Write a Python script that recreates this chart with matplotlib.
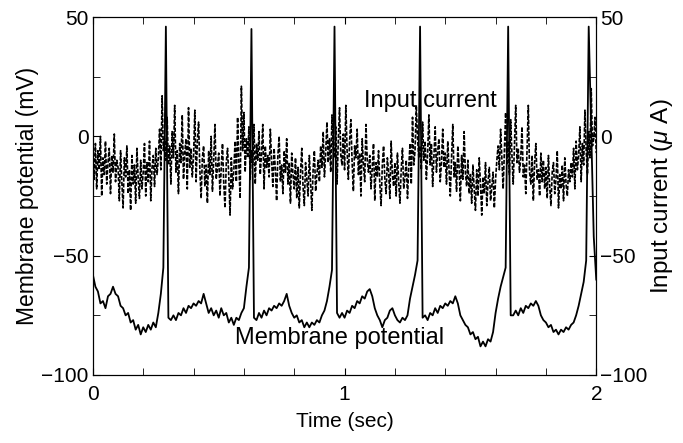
import numpy as np
import matplotlib
matplotlib.use("Agg")
import matplotlib.pyplot as plt
from matplotlib.ticker import MultipleLocator

plt.rcParams['font.family'] = ['Liberation Sans', 'DejaVu Sans']
plt.rcParams['mathtext.fontset'] = 'custom'
plt.rcParams['mathtext.it'] = 'Liberation Sans:italic'
plt.rcParams['mathtext.rm'] = 'Liberation Sans'

# membrane potential (mV), one value every 10 ms from 0 to 2 s
membrane = [
    -58, -63, -65, -70, -69, -72, -67, -66, -63, -66,
    -67, -71, -72, -75, -74, -78, -77, -81, -79, -83,
    -80, -82, -79, -81, -78, -80, -74, -66, -55, 46,
    -76, -77, -75, -77, -74, -75, -72, -74, -71, -72,
    -70, -71, -69, -70, -66, -70, -74, -72, -75, -73,
    -76, -72, -75, -74, -78, -76, -79, -76, -77, -74,
    -72, -63, -55, 45, -76, -77, -74, -76, -73, -75,
    -72, -73, -71, -72, -70, -71, -69, -66, -71, -74,
    -76, -75, -78, -77, -80, -78, -80, -78, -79, -77,
    -78, -75, -73, -69, -63, -56, 46, -74, -76, -74,
    -76, -73, -74, -71, -72, -69, -70, -67, -68, -65,
    -64, -67, -72, -75, -77, -80, -77, -76, -73, -72,
    -75, -77, -78, -76, -77, -75, -68, -63, -58, -52,
    46, -76, -75, -77, -74, -75, -72, -74, -71, -72,
    -70, -71, -69, -70, -67, -70, -75, -77, -79, -80,
    -83, -82, -85, -84, -88, -86, -88, -85, -86, -82,
    -74, -68, -63, -59, -55, 46, -75, -75, -73, -75,
    -72, -74, -71, -72, -70, -71, -69, -71, -75, -77,
    -78, -80, -79, -82, -81, -83, -81, -82, -80, -81,
    -79, -78, -75, -71, -66, -61, -52, 46, 2, -42,
    -60,
]

# input current (uA), one value every 5 ms from 0 to 2 s
current = [
    -8, -18, -3, -22, -6, -14, 0, -25, -9, -16, -2, -20, -11, -5, -24, -8, -15, 1, -19, -10,
    -13, -27, -6, -19, -30, -9, -17, -4, -24, -14, -31, -8, -20, -12, -28, -5, -18, -26, -10, -22,
    -15, -3, -25, -11, -19, -2, -27, -13, -8, -21, -5, -16, -9, 3, -14, 17, -6, -1, -10, 8,
    -12, -4, -20, 2, -9, 13, -15, -6, -24, -3, -11, 9, -18, -7, -1, -22, 12, -13, -5, -17,
    -8, 11, -19, -2, 6, -14, -26, -9, -4, -21, -12, -28, -6, -16, 0, -23, -10, 5, -18, -13,
    -7, -25, -13, -3, -20, -30, -11, -5, -17, -33, -9, -22, -14, -2, -19, 8, -12, -26, 21, -6,
    10, -15, -1, -9, 4, -18, -6, -12, 5, -20, -3, -10, 2, -16, -7, 5, -22, -4, -13, -8,
    -17, 3, -10, -21, -5, -14, -27, -8, 0, -19, -12, -24, -6, -15, -1, -20, -11, -28, -7, -16,
    -22, -9, -26, -13, -30, -15, -5, -21, -29, -11, -18, -25, -8, -20, -31, -14, -6, -23, -16, -10,
    -19, -4, -13, 2, -17, -7, 6, -11, -1, -15, 9, -5, -9, 4, -20, -2, 12, -8, -12, 1,
    -14, 13, -6, -18, -2, 7, -11, -23, -4, -9, 3, -16, -7, -25, -1, -12, -19, 5, -10, -15,
    -8, -22, -13, -3, -27, -11, -17, -6, -20, -29, -12, -4, -18, -24, -9, -15, -26, -2, -16, -21,
    -11, -25, -7, -19, -28, -14, -5, -22, -17, -10, -26, -13, -3, -20, 8, -12, -6, 13, -1, -9,
    -4, -14, 6, -10, -2, -18, -7, 9, -12, -3, -21, -8, 4, -15, -6, -1, -19, -11, 3, -13,
    -7, -20, -2, -14, -25, -9, 5, -17, -11, -23, -4, -13, -27, -8, -18, 2, -15, -21, -10, -24,
    -16, -28, -12, -22, -31, -14, -25, -9, -20, -33, -17, -24, -11, -29, -19, -13, -27, -21, -15, -30,
    -18, -10, -4, -14, 3, -9, -22, -6, 10, -12, -2, -16, 7, -8, -20, -3, 13, -11, -5, -15,
    -9, 4, -17, -12, -24, -6, 13, -15, -20, -8, -27, -11, -3, -18, -14, -25, -7, -19, -10, -22,
    -13, -26, -8, -21, -29, -15, -11, -24, -18, -6, -30, -16, -22, -12, -27, -9, -20, -25, -14, -19,
    -11, -17, -5, -22, -2, -14, -8, 4, -19, -3, -12, 11, -6, -16, 2, -9, 20, -4, -1, 8,
    -7,
]

t_mem = np.linspace(0, 2, len(membrane))
t_cur = np.linspace(0, 2, len(current))

fig = plt.figure(figsize=(6.83, 4.43), dpi=100)
ax = fig.add_axes([0.136, 0.1535, 0.737, 0.808])

ax.plot(t_cur, current, color="black", lw=1.2, linestyle=(0, (2.5, 1)), zorder=2)
ax.plot(t_mem, membrane, color="black", lw=1.3, zorder=3)

ax.set_xlim(0, 2)
ax.set_ylim(-100, 50)
ax.xaxis.set_major_locator(MultipleLocator(1))
ax.xaxis.set_minor_locator(MultipleLocator(0.2))
ax.yaxis.set_major_locator(MultipleLocator(50))
ax.yaxis.set_minor_locator(MultipleLocator(25))
ax.tick_params(which="both", direction="in", top=True, right=True, length=5, labelsize=15)
ax.tick_params(axis="x", pad=7)
ax.tick_params(axis="y", pad=3)

ax.set_xlabel("Time (sec)", fontsize=15)
ax.xaxis.set_label_coords(0.5, -0.103)
ax.set_ylabel("Membrane potential (mV)", fontsize=16.5)
ax.yaxis.set_label_coords(-0.108, 0.5)

ax2 = ax.twinx()
ax2.set_ylim(-100, 50)
ax2.yaxis.set_major_locator(MultipleLocator(50))
ax2.yaxis.set_minor_locator(MultipleLocator(25))
ax2.tick_params(which="both", direction="in", length=5, labelsize=15, pad=3)
ax2.set_ylabel("Input current ($\\mu$ A)", fontsize=17.5)
ax2.yaxis.set_label_coords(1.105, 0.5)

ax.text(1.34, 14.8, "Input current", fontsize=17, ha="center", va="center", zorder=4)
ax.text(0.98, -84.5, "Membrane potential", fontsize=17, ha="center", va="center", zorder=4)

fig.savefig("out.png", dpi=100)
